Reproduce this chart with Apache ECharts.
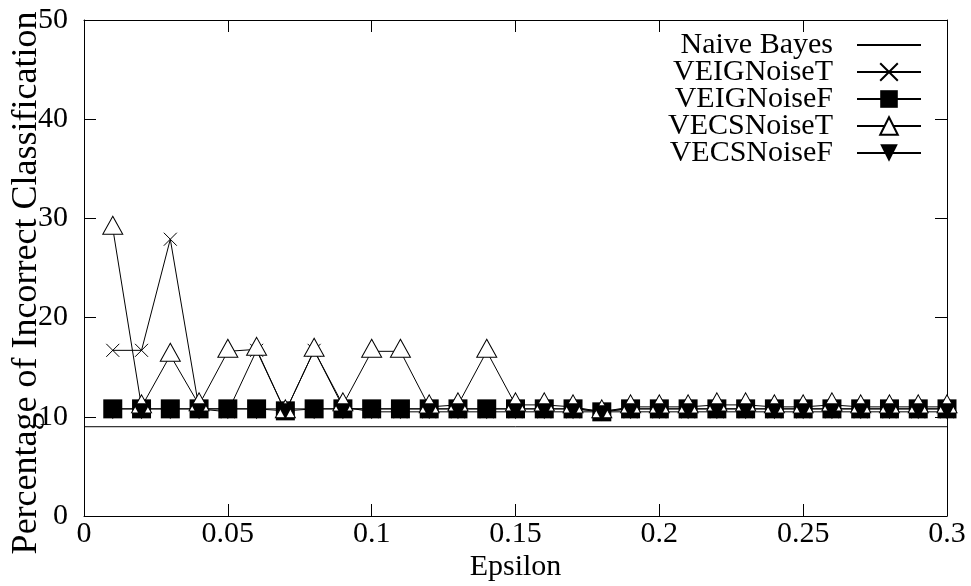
<!DOCTYPE html>
<html>
<head>
<meta charset="utf-8">
<script src="https://cdn.jsdelivr.net/npm/echarts@6/dist/echarts.min.js"></script>
<style>html,body{margin:0;padding:0;background:#fff}#c{width:971px;height:586px}</style>
</head>
<body>
<div id="c"></div>
<script>
const epsilon = [0.01,0.02,0.03,0.04,0.05,0.06,0.07,0.08,0.09,0.10,0.11,0.12,0.13,0.14,0.15,0.16,0.17,0.18,0.19,0.20,0.21,0.22,0.23,0.24,0.25,0.26,0.27,0.28,0.29,0.30];
const naiveX = [0, 0.3];
const naiveBayes = [9.0, 9.0];
const veigNoiseT = [16.7,16.7,27.9,10.8,10.5,16.7,10.5,16.7,11.0,10.5,10.5,10.5,10.5,10.5,10.5,10.5,10.5,10.5,10.5,10.5,10.5,10.5,10.5,10.5,10.5,10.5,10.5,10.5,10.5,10.5];
const veigNoiseF = [10.8,10.8,10.8,10.8,10.8,10.8,10.6,10.8,10.8,10.8,10.8,10.8,10.8,10.8,10.8,10.8,10.8,10.5,10.8,10.8,10.8,10.8,10.8,10.8,10.8,10.8,10.8,10.8,10.8,10.8];
const vecsNoiseT = [29.0,11.0,16.2,11.2,16.6,16.8,10.5,16.7,11.2,16.6,16.6,11.0,11.2,16.6,11.2,11.2,11.0,10.5,11.0,11.0,11.0,11.2,11.2,11.0,11.0,11.2,11.0,11.0,11.0,11.0];
const vecsNoiseF = [10.8,10.8,10.8,10.8,10.8,10.8,10.8,10.8,10.8,10.8,10.8,10.8,10.8,10.8,10.8,10.8,10.8,10.6,10.8,10.8,10.8,10.8,10.8,10.8,10.8,10.8,10.8,10.8,10.8,10.8];
const yTicks = {min: 0, max: 50, interval: 10};
const xTicks = {min: 0, max: 0.3, interval: 0.05};

const FONT = 'Liberation Serif';
const FS = 30;
const pair = (xs, ys) => xs.map((x, i) => [x, ys[i]]);

const chart = echarts.init(document.getElementById('c'), null, {renderer: 'canvas'});
const axisCommon = {
  axisLine: {show: true, onZero: false, lineStyle: {color: '#000', width: 1}},
  axisTick: {show: true, inside: true, length: 12, lineStyle: {color: '#000', width: 1}},
  splitLine: {show: false}
};
const lineBase = {type: 'line', animation: false, lineStyle: {color: '#000', width: 1}, emphasis: {disabled: true}};
chart.setOption({
  animation: false,
  backgroundColor: '#fff',
  textStyle: {fontFamily: FONT},
  grid: {left: 84, right: 24, top: 20, bottom: 70, containLabel: false, outerBoundsMode: 'none'},
  xAxis: [
    Object.assign({type: 'value', min: xTicks.min, max: xTicks.max, interval: xTicks.interval,
      name: 'Epsilon', nameLocation: 'middle', nameGap: 36, nameMoveOverlap: false,
      nameTextStyle: {fontFamily: FONT, fontSize: FS, color: '#000'},
      axisLabel: {fontFamily: FONT, fontSize: FS, color: '#000', margin: 3}}, axisCommon),
    Object.assign({type: 'value', position: 'top', min: xTicks.min, max: xTicks.max, interval: xTicks.interval,
      axisLabel: {show: false}}, axisCommon)
  ],
  yAxis: [
    Object.assign({type: 'value', min: yTicks.min, max: yTicks.max, interval: yTicks.interval,
      name: 'Percentage of Incorrect Classification', nameLocation: 'middle', nameGap: 39, nameRotate: 90,
      nameMoveOverlap: false,
      nameTextStyle: {fontFamily: FONT, fontSize: 36, color: '#000', padding: [0, 30, 0, 0]},
      axisLabel: {fontFamily: FONT, fontSize: FS, color: '#000', margin: 16}}, axisCommon),
    Object.assign({type: 'value', position: 'right', min: yTicks.min, max: yTicks.max, interval: yTicks.interval,
      axisLabel: {show: false}}, axisCommon)
  ],
  legend: {
    orient: 'vertical', right: 44, top: 25, align: 'right',
    itemWidth: 64, itemHeight: 22, itemGap: -3,
    textStyle: {fontFamily: FONT, fontSize: FS, color: '#000', padding: [0, 19, 0, 0]},
    data: [{name: 'Naive Bayes', itemStyle: {opacity: 0}}, 'VEIGNoiseT', 'VEIGNoiseF', 'VECSNoiseT', 'VECSNoiseF']
  },
  series: [
    Object.assign({}, lineBase, {name: 'Naive Bayes', data: pair(naiveX, naiveBayes), symbol: 'none', itemStyle: {color: '#000'}}),
    Object.assign({}, lineBase, {name: 'VEIGNoiseT', data: pair(epsilon, veigNoiseT),
      symbol: 'path://M0,0L10,10M10,0L0,10', symbolSize: 13,
      itemStyle: {color: '#000', borderColor: '#000', borderWidth: 1}}),
    Object.assign({}, lineBase, {name: 'VEIGNoiseF', data: pair(epsilon, veigNoiseF),
      symbol: 'rect', symbolSize: 19, itemStyle: {color: '#000'}}),
    Object.assign({}, lineBase, {name: 'VECSNoiseT', data: pair(epsilon, vecsNoiseT),
      symbol: 'triangle', symbolSize: [20, 18], symbolOffset: [0, -3],
      itemStyle: {color: '#fff', borderColor: '#000', borderWidth: 1}}),
    Object.assign({}, lineBase, {name: 'VECSNoiseF', data: pair(epsilon, vecsNoiseF),
      symbol: 'path://M0,0L20,0L10,18Z', symbolSize: [17, 16], symbolOffset: [0, 2.5],
      itemStyle: {color: '#000'}})
  ]
});
</script>
</body>
</html>
